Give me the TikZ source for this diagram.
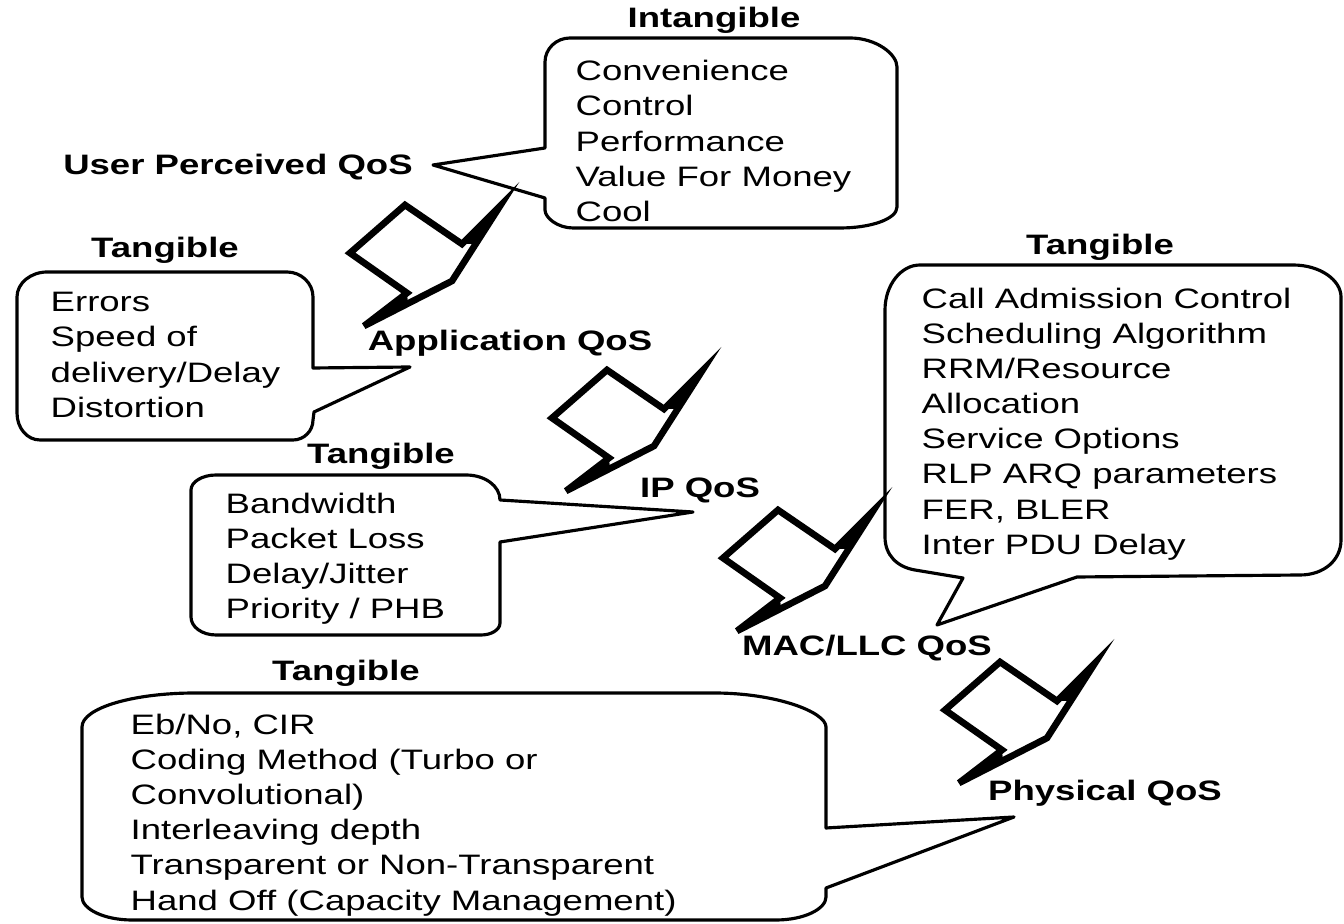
\documentclass[tikz,border=0pt]{standalone}
\usepackage{fontspec}
\setmainfont{Liberation Sans}[FakeStretch=1.3]

\begin{document}
\begin{tikzpicture}[
  x=0.1mm, y=-0.1mm,
  font=\fontsize{8}{10}\selectfont,
  level/.style={
    font=\fontsize{8}{10}\selectfont\bfseries,
    inner sep=0pt
  },
  items/.style={
    align=left,
    anchor=west,
    inner sep=0pt
  },
  bubble/.style={
    draw=black,
    fill=white,
    line width=0.9pt,
    line join=round
  },
  chevron/.style={
    draw=black,
    fill=white,
    line width=1.9pt,
    line join=miter
  },
  spike/.style={fill=black}
]

\useasboundingbox (0,0) rectangle (1344,924);

% Callout outlines
\draw[bubble] (545,148) -- (545,62) .. controls (545,49) and (556,38) .. (570,38)
  -- (850,38) .. controls (876,38) and (897,54) .. (897,67)
  -- (897,207) .. controls (897,219) and (871,228) .. (840,228)
  -- (573,228) .. controls (558,228) and (545,218) .. (545,210)
  -- (545,198) -- (433,165) -- cycle;

\draw[bubble] (313,368) -- (313,297) .. controls (313,283) and (301,272) .. (287,272)
  -- (47,272) .. controls (31,272) and (17,283) .. (17,297)
  -- (17,413) .. controls (17,428) and (27,440) .. (40,440)
  -- (293,440) .. controls (304,440) and (313,431) .. (313,420)
  -- (314,412) -- (410,367) -- cycle;

\draw[bubble] (500,500) -- (693,512) -- (500,542)
  -- (500,623) .. controls (500,630) and (491,635) .. (481,635)
  -- (216,635) .. controls (202,635) and (191,627) .. (191,617)
  -- (191,490) .. controls (191,482) and (202,475) .. (216,475)
  -- (466,475) .. controls (485,475) and (500,486) .. cycle;

\draw[bubble] (963,578) -- (937,625) -- (1077,577)
  -- (1300,575) .. controls (1324,575) and (1341,560) .. (1341,540)
  -- (1341,297) .. controls (1341,280) and (1320,265) .. (1293,265)
  -- (920,265) .. controls (901,265) and (885,285) .. (885,310)
  -- (885,537) .. controls (885,555) and (897,567) .. (915,570) -- cycle;

\draw[bubble] (826,828) -- (1014,817) -- (826,888)
  -- (826,897) .. controls (826,909) and (804,920) .. (776,920)
  -- (132,920) .. controls (104,920) and (82,909) .. (82,897)
  -- (82,727) .. controls (82,708) and (133,693) .. (195,693)
  -- (714,693) .. controls (776,693) and (826,712) .. (826,727) -- cycle;

% Chevrons between the levels
\foreach \px/\py in {350/253, 552/418, 723/558, 945/710} {
  \filldraw[chevron] (\px,\py) -- ++(55,-48) -- ++(57,39) -- ++(38,-38)
    -- ++(-48,75) -- ++(-88,45) -- ++(43,-33) -- cycle;
  \fill[spike] (\px,\py) ++(112,-9) -- ++(38,-38) -- ++(-24,38) -- cycle;
  \fill[spike] (\px,\py) ++(57,40) -- ++(-43,33) -- ++(44,-22) -- cycle;
}

% Level labels
\node[level] (intang) at (714,20) {Intangible};
\node[level] (user) at (238,167) {User Perceived QoS};
\node[level] (tangapp) at (165,250) {Tangible};
\node[level] (app) at (510,343) {Application QoS};
\node[level] (tangmac) at (1100,247) {Tangible};
\node[level] (tangip) at (381,456) {Tangible};
\node[level] (ip) at (700,490) {IP QoS};
\node[level] (mac) at (867,648) {MAC/LLC QoS};
\node[level] (tangphy) at (346,673) {Tangible};
\node[level] (phy) at (1105,793) {Physical QoS};

% Callout texts
\node[items] (userlist) at (575,141)
{Convenience\\Control\\Performance\\Value For Money\\Cool};

\node[items] (applist) at (50,355)
{Errors\\Speed of\\delivery/Delay\\Distortion};

\node[items] (iplist) at (225,559)
{Bandwidth\\Packet Loss\\Delay/Jitter\\Priority / PHB};

\node[items] (maclist) at (921,424)
{Call Admission Control\\Scheduling Algorithm\\RRM/Resource\\Allocation\\
Service Options\\RLP ARQ parameters\\FER, BLER\\Inter PDU Delay};

\node[items] (phylist) at (130,815)
{Eb/No, CIR\\Coding Method (Turbo or\\Convolutional)\\Interleaving depth\\
Transparent or Non-Transparent\\Hand Off (Capacity Management)};

\end{tikzpicture}
\end{document}
